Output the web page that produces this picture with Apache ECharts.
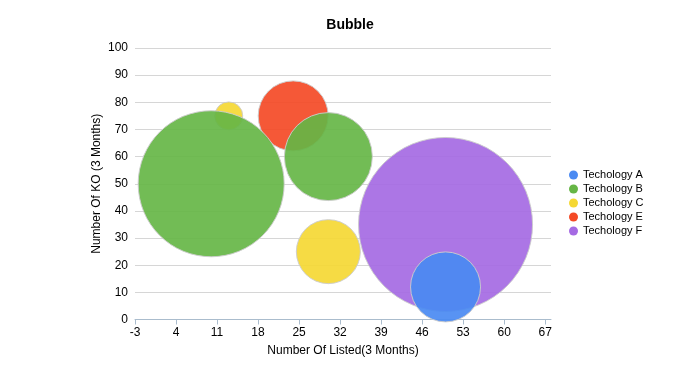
<!DOCTYPE html>
<html>
<head>
<meta charset="utf-8">
<script src="https://cdn.jsdelivr.net/npm/echarts@6/dist/echarts.min.js"></script>
<style>html,body{margin:0;padding:0;background:#fff}#c{width:700px;height:375px}</style>
</head>
<body>
<div id="c"></div>
<script>
const seriesNames = ['Techology A', 'Techology B', 'Techology C', 'Techology E', 'Techology F'];
const seriesColors = ['#4a8af2', '#66b646', '#f5d834', '#f44a26', '#a56ae3'];
// [x, y, size]
const techA = [[50, 12, 35]];
const techB = [[10, 50, 73], [30, 60, 44]];
const techC = [[13, 75, 14], [30, 25, 32]];
const techE = [[24, 75, 35]];
const techF = [[50, 35, 87]];
const allData = [techA, techB, techC, techE, techF];
const xTickMin = -3, xTickStep = 7;
const yTicks = [0, 100, 10];
const seriesZ = [3, 3, 2, 2, 2];

const font = 'Liberation Sans, Arial, sans-serif';
const chart = echarts.init(document.getElementById('c'));
chart.setOption({
  animation: false,
  title: { text: 'Bubble', left: 'center', top: 13,
    textStyle: { fontFamily: font, fontSize: 14, fontWeight: 'bold', color: '#000' } },
  legend: {
    orient: 'vertical', left: 564, top: 163, itemGap: 0,
    itemWidth: 9, itemHeight: 9, icon: 'circle',
    itemStyle: { borderWidth: 0, opacity: 1 },
    textStyle: { fontFamily: font, fontSize: 11, color: '#000', lineHeight: 14 },
    data: seriesNames
  },
  grid: { left: 135, right: 149, top: 48, bottom: 55.5 },
  xAxis: {
    type: 'value', min: xTickMin, max: 68, interval: xTickStep,
    name: 'Number Of Listed(3 Months)', nameLocation: 'middle', nameGap: 25,
    nameMoveOverlap: false,
    nameTextStyle: { fontFamily: font, fontSize: 12, color: '#000' },
    axisLine: { show: true, lineStyle: { color: '#aabccd', width: 1 } },
    axisTick: { show: true, length: 5, lineStyle: { color: '#aabccd' } },
    axisLabel: { fontFamily: font, fontSize: 12, color: '#000', margin: 7, showMaxLabel: false },
    splitLine: { show: false }
  },
  yAxis: {
    type: 'value', min: yTicks[0], max: yTicks[1], interval: yTicks[2],
    name: 'Number Of KO (3 Months)', nameLocation: 'middle', nameGap: 32,
    nameMoveOverlap: false,
    nameTextStyle: { fontFamily: font, fontSize: 12, color: '#000' },
    axisLine: { show: false }, axisTick: { show: false },
    axisLabel: { fontFamily: font, fontSize: 12, color: '#000', margin: 7 },
    splitLine: { lineStyle: { color: '#d6d6d6', width: 1 } }
  },
  series: seriesNames.map((n, i) => ({
    name: n, type: 'scatter', data: allData[i], z: seriesZ[i],
    symbolSize: d => d[2] * 2,
    itemStyle: { color: seriesColors[i], opacity: 0.92, borderColor: '#cccccc', borderWidth: 1 },
    emphasis: { disabled: true }
  }))
});
</script>
</body>
</html>
